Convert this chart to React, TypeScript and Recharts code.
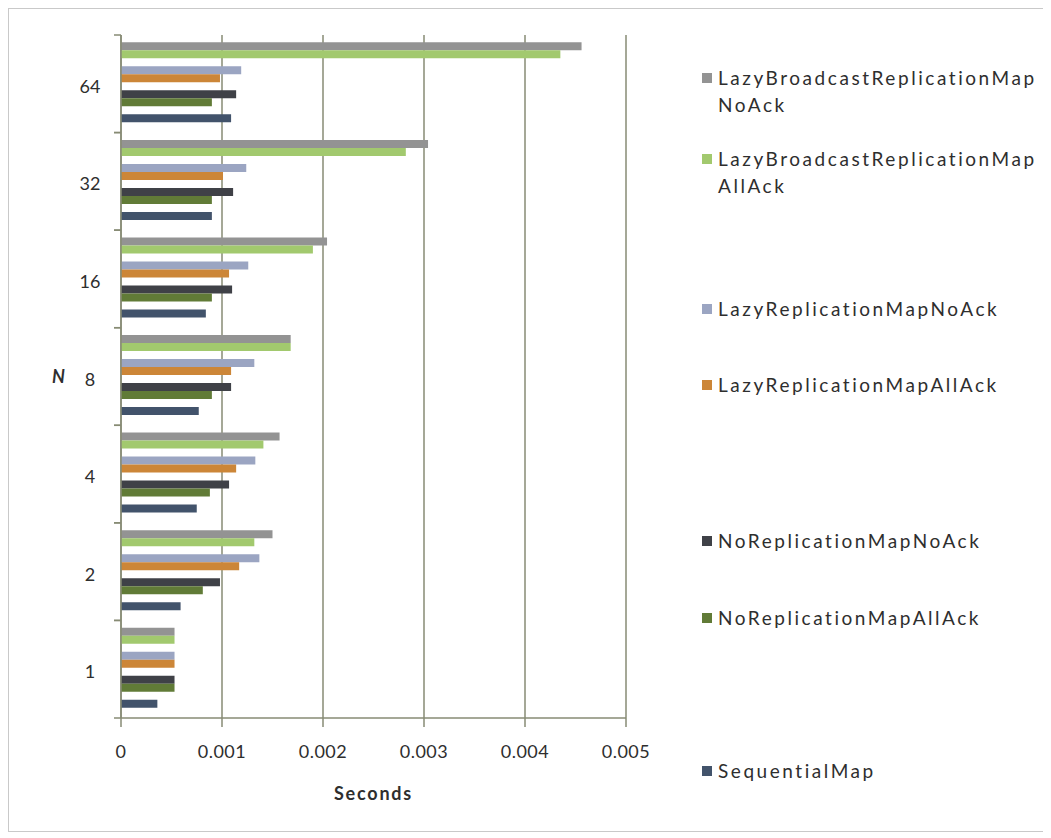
import React from 'react';
import { BarChart, Bar, XAxis, YAxis, CartesianGrid, Legend } from 'recharts';

const categories = ['64', '32', '16', '8', '4', '2', '1'];
const lazyBroadcastNoAck = [0.00456, 0.00304, 0.00204, 0.00168, 0.00157, 0.0015, 0.00053];
const lazyBroadcastAllAck = [0.00435, 0.00282, 0.0019, 0.00168, 0.00141, 0.00132, 0.00053];
const lazyReplicationNoAck = [0.00119, 0.00124, 0.00126, 0.00132, 0.00133, 0.00137, 0.00053];
const lazyReplicationAllAck = [0.00098, 0.00101, 0.00107, 0.00109, 0.00114, 0.00117, 0.00053];
const noReplicationNoAck = [0.00114, 0.00111, 0.0011, 0.00109, 0.00107, 0.00098, 0.00053];
const noReplicationAllAck = [0.0009, 0.0009, 0.0009, 0.0009, 0.00088, 0.00081, 0.00053];
const sequentialMap = [0.00109, 0.0009, 0.00084, 0.00077, 0.00075, 0.00059, 0.00036];
const xTicks = [0, 0.001, 0.002, 0.003, 0.004, 0.005];

// series in draw order (top to bottom inside each category); blanks reserve empty slots
const series = [
  { key: 'lbNo', name: ['LazyBroadcastReplicationMap', 'NoAck'], values: lazyBroadcastNoAck, color: '#939393' },
  { key: 'lbAll', name: ['LazyBroadcastReplicationMap', 'AllAck'], values: lazyBroadcastAllAck, color: '#a2c96e' },
  { key: 'blank1', name: null, values: null, color: 'transparent' },
  { key: 'lrNo', name: ['LazyReplicationMapNoAck'], values: lazyReplicationNoAck, color: '#9ba5c2' },
  { key: 'lrAll', name: ['LazyReplicationMapAllAck'], values: lazyReplicationAllAck, color: '#cc8638' },
  { key: 'blank2', name: null, values: null, color: 'transparent' },
  { key: 'nrNo', name: ['NoReplicationMapNoAck'], values: noReplicationNoAck, color: '#3f4147' },
  { key: 'nrAll', name: ['NoReplicationMapAllAck'], values: noReplicationAllAck, color: '#617b37' },
  { key: 'blank3', name: null, values: null, color: 'transparent' },
  { key: 'seq', name: ['SequentialMap'], values: sequentialMap, color: '#42536b' },
];

// legend entry vertical positions (layout only)
const legendTops = [55, 136, 0, 286, 362, 0, 518, 595, 0, 748];

const data = categories.map((c, i) => {
  const row: Record<string, any> = { n: c };
  series.forEach((s) => {
    if (s.values) row[s.key] = s.values[i];
  });
  return row;
});

const FONT = 'Lato, "Open Sans", sans-serif';
const GRID = '#878b74';
const TEXT = '#2e2e2e';

const YTick = (props: any) => {
  const { x, y, payload } = props;
  const half = payload && payload.offset ? payload.offset : 48.8;
  return (
    <g>
      <text x={x - 31} y={y + 2} textAnchor="middle" dominantBaseline="central" fontSize={18} fontFamily={FONT} fill={TEXT}>
        {payload.value}
      </text>
      <line x1={x - 7} x2={x} y1={y - half} y2={y - half} stroke={GRID} strokeWidth={1.5} />
      <line x1={x - 7} x2={x} y1={y + half} y2={y + half} stroke={GRID} strokeWidth={1.5} />
    </g>
  );
};

const renderLegend = () => (
  <div style={{ position: 'relative', width: 350, height: 822, fontFamily: FONT }}>
    {series.map((s, i) =>
      s.name ? (
        <div key={s.key} style={{ position: 'absolute', left: 3, top: legendTops[i], display: 'flex', alignItems: 'flex-start' }}>
          <div style={{ width: 10, height: 10, background: s.color, marginTop: 9, marginRight: 6 }} />
          <div style={{ fontSize: 19, lineHeight: '27px', color: TEXT, letterSpacing: 2.55, whiteSpace: 'nowrap' }}>
            {s.name.map((t, j) => (
              <div key={j}>{t}</div>
            ))}
          </div>
        </div>
      ) : null
    )}
  </div>
);

export default function App() {
  return (
    <div style={{ width: 1035, height: 822, border: '1px solid #c9c9c9', position: 'relative', background: '#fff' }}>
      <BarChart
        width={1035}
        height={822}
        data={data}
        layout="vertical"
        barCategoryGap="7.5%"
        barGap={0}
        margin={{ top: 26, right: 418, bottom: 28, left: 42 }}
      >
        <CartesianGrid horizontal={false} vertical={true} stroke={GRID} strokeWidth={1.5} />
        <XAxis
          type="number"
          domain={[0, 0.005]}
          ticks={xTicks}
          interval={0}
          height={85}
          tickSize={9}
          tickMargin={18}
          axisLine={{ stroke: GRID, strokeWidth: 1.5 }}
          tickLine={{ stroke: GRID, strokeWidth: 1.5 }}
          tick={{ fontSize: 18, fontFamily: FONT, fill: TEXT, letterSpacing: 0.5 } as any}
          label={{ value: 'Seconds', position: 'insideBottom', offset: 3, style: { fontSize: 18, fontWeight: 700, fontFamily: FONT, fill: TEXT, letterSpacing: 1.8 } }}
        />
        <YAxis
          type="category"
          dataKey="n"
          width={70}
          tickSize={0}
          tickMargin={0}
          tickLine={false}
          axisLine={{ stroke: GRID, strokeWidth: 1.5 }}
          tick={<YTick />}
          label={{ value: 'N', position: 'insideLeft', offset: 1, style: { fontSize: 18, fontWeight: 700, fontStyle: 'italic', fontFamily: FONT, fill: TEXT } }}
        />
        <Legend
          layout="vertical"
          align="center"
          verticalAlign="middle"
          wrapperStyle={{ left: 690, top: 0, width: 345, height: 822 }}
          content={renderLegend}
        />
        {series.map((s) => (
          <Bar
            key={s.key}
            dataKey={s.key}
            fill={s.color}
            legendType="none"
            isAnimationActive={false}
          />
        ))}
      </BarChart>
    </div>
  );
}
